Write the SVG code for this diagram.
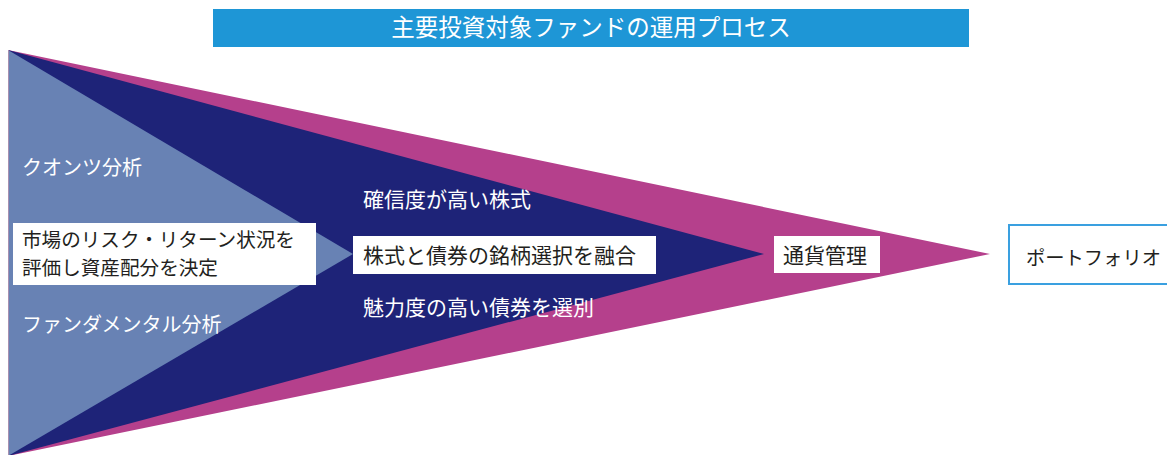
<svg xmlns="http://www.w3.org/2000/svg" width="1167" height="455" viewBox="0 0 1167 455">
<style>
text{font-family:"Noto Sans CJK JP","Noto Sans",sans-serif;}
.w{fill:#ffffff;}
.d{fill:#231f20;}
.box{fill:#ffffff;}
</style>
<rect width="1167" height="455" fill="#ffffff"/>
<g id="title">
<rect x="213" y="9" width="756" height="38" fill="#1e96d6"/>
<text x="591" y="36" text-anchor="middle" font-size="23.5" class="w">主要投資対象ファンドの運用プロセス</text>
</g>
<g id="stage-currency">
<polygon points="8,50 990,254 8,456" fill="#b5408c"/>
</g>
<g id="stage-selection">
<polygon points="8,50 764,254 8,456" fill="#1e2378"/>
</g>
<g id="stage-allocation">
<polygon points="8,50 353,254 8,456" fill="#6882b4"/>
</g>
<line x1="8.5" y1="50" x2="8.5" y2="455" stroke="#a890b0" stroke-width="1"/>
<g id="allocation-labels">
<text x="22" y="175" font-size="20" class="w">クオンツ分析</text>
<rect x="13" y="223" width="303" height="62" class="box"/>
<text x="22" y="247" font-size="19.6" class="d">市場のリスク・リターン状況を</text>
<text x="22" y="275" font-size="19.6" class="d">評価し資産配分を決定</text>
<text x="22" y="332" font-size="20" class="w">ファンダメンタル分析</text>
</g>
<g id="selection-labels">
<text x="363" y="207" font-size="21" class="w">確信度が高い株式</text>
<rect x="353" y="236" width="303" height="38" class="box"/>
<text x="363" y="263" font-size="21" class="d">株式と債券の銘柄選択を融合</text>
<text x="363" y="315" font-size="21" class="w">魅力度の高い債券を選別</text>
</g>
<g id="currency">
<rect x="774" y="236" width="106" height="37" class="box"/>
<text x="783" y="263" font-size="21" class="d">通貨管理</text>
</g>
<g id="portfolio">
<rect x="1009" y="225" width="160" height="59" fill="#ffffff" stroke="#3aa0e0" stroke-width="2"/>
<text x="1026" y="265" font-size="19.3" class="d">ポートフォリオ</text>
</g>
<g id="connectors"></g>
</svg>
